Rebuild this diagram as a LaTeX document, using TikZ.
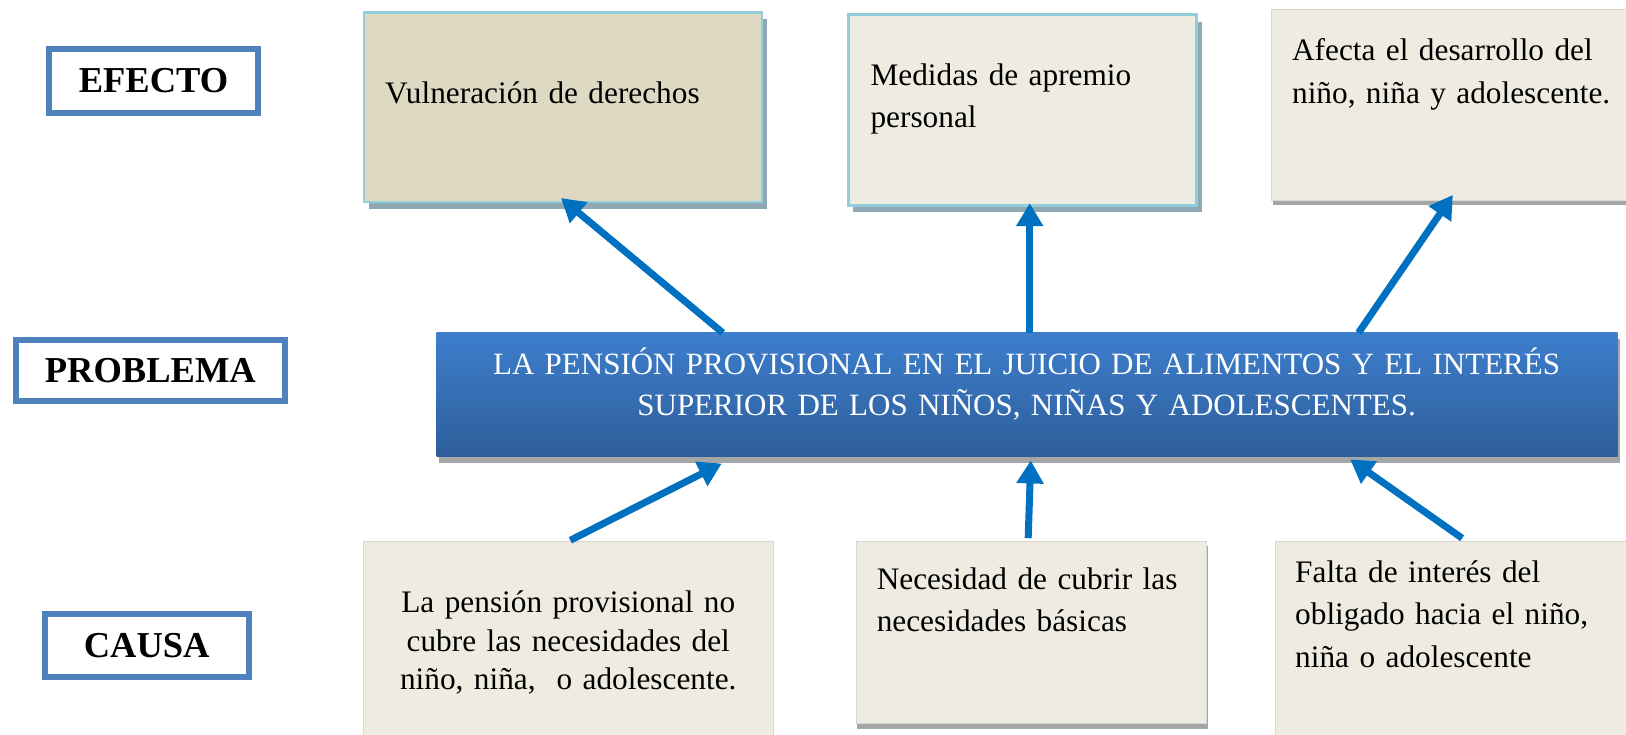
\documentclass[tikz,border=0pt]{standalone}
\usepackage{fontspec}
\setmainfont{Liberation Serif}
\usetikzlibrary{arrows.meta,fit,shadows}
\definecolor{labelblue}{HTML}{4F81BD}
\definecolor{arrowblue}{HTML}{0070C0}
\definecolor{effborder}{HTML}{92CDDC}
\definecolor{effshadow}{HTML}{8FA9B4}
\definecolor{tan}{HTML}{DDD9C3}
\definecolor{cream}{HTML}{EEECE1}
\definecolor{creamedge}{HTML}{D8D6CE}
\definecolor{grayshadow}{HTML}{A6A6A6}
\definecolor{probtop}{HTML}{3D7ECC}
\definecolor{probbottom}{HTML}{2E5E9B}
\begin{document}
\begin{tikzpicture}[x=1.037pt,y=-1.037pt,
  every node/.style={inner sep=0pt, outer sep=0pt},
  lbl/.style={draw=labelblue, line width=6pt, fill=white, anchor=center, font=\fontsize{36.5}{40}\selectfont\bfseries},
  effbox/.style={draw=effborder, line width=2.5pt, general shadow={fill=effshadow, shadow xshift=5pt, shadow yshift=-7pt}},
  plainbox/.style={fill=cream, draw=creamedge, line width=0.8pt, general shadow={fill=grayshadow, shadow xshift=1pt, shadow yshift=-5pt}},
  probbox/.style={top color=probtop, bottom color=probbottom, general shadow={fill=grayshadow, shadow xshift=2pt, shadow yshift=-6pt}},
  lefttext/.style={text width=#1, align=left, anchor=base west},
  centertext/.style={text width=#1, align=center, anchor=base},
  link/.style={draw=arrowblue, line width=7pt, -{Triangle[length=23pt,width=26pt]}}
]
\useasboundingbox (0,0) rectangle (1568,708);
\clip (0,0) rectangle (1568,708);

% row labels
\node[lbl, minimum width=209.5pt, minimum height=64.3pt] (efecto) at (148,78) {EFECTO};
\node[lbl, minimum width=269.6pt, minimum height=61.2pt] (problema) at (145,357.5) {PROBLEMA};
\node[lbl, minimum width=204.3pt, minimum height=63.3pt] (causa) at (141.5,622.5) {CAUSA};

% effect boxes
\node[effbox, fill=tan, fit={(351,12)(735,195)}] (eff1) {};
\node[effbox, fill=cream, fit={(818,14)(1154,198)}] (eff2) {};
\node[plainbox, fit={(1226.5,9)(1580,193)}] (eff3) {};

\node[lefttext=390pt, font=\fontsize{31.3}{37}\selectfont] (eff1t) at (371.5,100) {Vulneración de derechos};
\node[lefttext=330pt, font=\fontsize{31.3}{41.5}\selectfont] (eff2t) at (839.5,82.5) {Medidas de apremio\\personal};
\node[lefttext=340pt, font=\fontsize{31.3}{43.5}\selectfont] (eff3t) at (1246,58) {Afecta el desarrollo del\\niño, niña y adolescente.};

% problem
\node[probbox, fit={(421,321)(1560,440.5)}] (prob) {};
\node[centertext=1150pt, text=white, font=\fontsize{31}{41.5}\selectfont] (probt) at (990,361)
  {LA PENSIÓN PROVISIONAL EN EL JUICIO DE ALIMENTOS Y EL INTERÉS\\SUPERIOR DE LOS NIÑOS, NIÑAS Y ADOLESCENTES.};

% cause boxes
\node[plainbox, fit={(350.5,522)(745.5,720)}] (cau1) {};
\node[plainbox, fit={(825.5,522)(1163.5,698)}] (cau2) {};
\node[plainbox, fit={(1229.5,522)(1580,720)}] (cau3) {};

\node[centertext=400pt, font=\fontsize{31.3}{38.4}\selectfont] (cau1t) at (548,591)
  {La pensión provisional no\\cubre las necesidades del\\niño, niña,~ o adolescente.};
\node[lefttext=340pt, font=\fontsize{31.3}{42.5}\selectfont] (cau2t) at (845.5,568)
  {Necesidad de cubrir las\\necesidades básicas};
\node[lefttext=340pt, font=\fontsize{31.3}{42.5}\selectfont] (cau3t) at (1249,561.5)
  {Falta de interés del\\obligado hacia el niño,\\niña o adolescente};

% connector end points
\coordinate (e1s) at (697,321);  \coordinate (e1t) at (541,191);
\coordinate (e2s) at (993,321);  \coordinate (e2t) at (993,196);
\coordinate (e3s) at (1310,321); \coordinate (e3t) at (1401,188);
\coordinate (c1s) at (550,521);  \coordinate (c1t) at (696,447);
\coordinate (c2s) at (991.5,519);\coordinate (c2t) at (994,444);
\coordinate (c3s) at (1410,519); \coordinate (c3t) at (1302,443);

\draw[link] (e1s) -- (e1t);
\draw[link] (e2s) -- (e2t);
\draw[link] (e3s) -- (e3t);
\draw[link] (c1s) -- (c1t);
\draw[link] (c2s) -- (c2t);
\draw[link] (c3s) -- (c3t);
\end{tikzpicture}
\end{document}
